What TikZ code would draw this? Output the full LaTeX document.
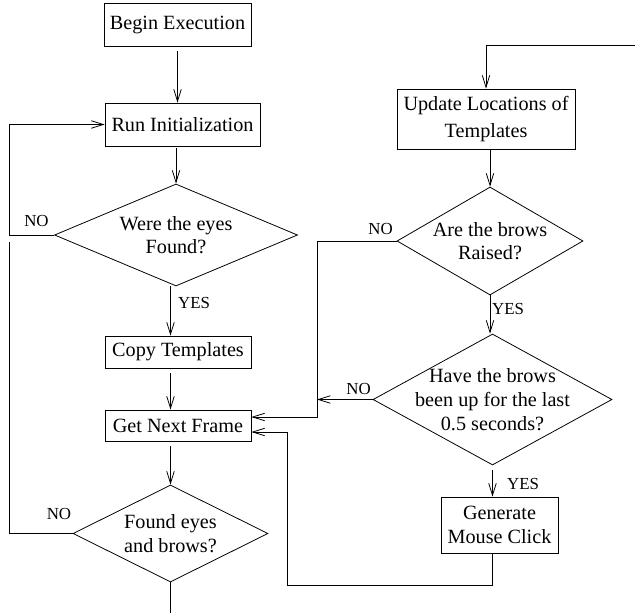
\documentclass[tikz,border=0pt]{standalone}
\usepackage{fontspec}
\setmainfont{Liberation Serif}
\usetikzlibrary{shapes.geometric,arrows.meta}

\begin{document}
\begin{tikzpicture}[scale=0.2, line width=0.45pt,
    box/.style={draw, rectangle, inner sep=0pt, align=center, font=\fontsize{11.5}{13.5}\selectfont},
    dia/.style={draw, diamond, inner xsep=-1cm, inner ysep=-0.6cm, align=center, font=\fontsize{11.5}{13.5}\selectfont},
    lbl/.style={inner sep=0pt, font=\fontsize{9.6}{11}\selectfont},
    arr/.style={-{Straight Barb[length=2.4mm,width=1.5mm]}},
    gap/.style={shorten <=1mm}]
        \useasboundingbox (0,0) rectangle (63.5,-61.3);
        % left column
        \node[box, minimum width=2.94cm, minimum height=0.86cm] (begin) at (17.75,-2.45) {Begin Execution};
        \node[box, minimum width=3.1cm, minimum height=0.86cm] (init) at (18.25,-12.45) {Run Initialization};
        \node[dia, minimum width=4.86cm, minimum height=2.04cm] (eyes) at (17.6,-23.5) {Were the eyes\\Found?};
        \node[box, minimum width=2.92cm, minimum height=0.64cm] (copy) at (17.8,-35.2) {Copy Templates};
        \node[box, minimum width=2.92cm, minimum height=0.62cm] (next) at (17.8,-42.55) {Get Next Frame};
        \node[dia, minimum width=3.9cm, minimum height=1.94cm] (found) at (17.05,-53.35) {Found eyes\\and brows?};
        % right column
        \node[box, minimum width=3.56cm, minimum height=1.2cm] (update) at (48.6,-11.9) {Update Locations of\\[2pt]Templates};
        \node[dia, minimum width=3.72cm, minimum height=2.16cm] (brows) at (49,-24.1) {Are the brows\\Raised?};
        \node[dia, minimum width=4.78cm, minimum height=2.62cm] (held) at (49.25,-39.95) {Have the brows\\been up for the last\\0.5 seconds?};
        \node[box, minimum width=2.34cm, minimum height=1.12cm] (click) at (49.95,-52.5) {Generate\\Mouse Click};
        % corners of the return lines
        \coordinate (loopL) at (0.9,-24.2);
        \coordinate (topR) at (63.5,-4.5);
        \coordinate (bus) at (31.7,-41.7);
        \coordinate (ret) at (28.7,-58.5);
        \coordinate (retin) at (28.7,-43.2);
        \coordinate (exit) at (17.05,-61.3);
        % connectors
        \draw[arr, gap] (begin.south) -- (begin.south |- init.north);
        \draw[arr, shorten <=0.4mm] (eyes.north |- init.south) -- (eyes.north);
        \draw[arr] (eyes.south -| found.north) -- (found.north |- copy.north);
        \draw[arr, gap] (found.north |- copy.south) -- (found.north |- next.north);
        \draw[arr, gap] (found.north |- next.south) -- (found.north);
        \draw (found.south) -- (exit);
        \draw[arr] (eyes.west) -- (eyes.west -| loopL) |- (init.west);
        \draw (found.west) -| (loopL);
        \draw[arr] (topR) -| (update.north);
        \draw[arr] (brows.north |- update.south) -- (brows.north);
        \draw[arr] (brows.west) -| (bus) -- (bus -| next.east);
        \draw[arr] (held.west) -- (held.west -| bus);
        \draw[arr] (brows.south) -- (brows.south |- held.north);
        \draw[arr, gap] (held.south) -- (held.south |- click.north);
        \draw[arr] (click.south -| held.south) |- (ret) -- (retin) -- (retin -| next.east);
        % branch labels
        \node[lbl] (no1) at (3.65,-22.1) {NO};
        \node[lbl] (yes1) at (19.4,-30.25) {YES};
        \node[lbl] (no2) at (38.05,-22.9) {NO};
        \node[lbl] (yes2) at (50.8,-30.9) {YES};
        \node[lbl] (no3) at (35.85,-38.9) {NO};
        \node[lbl] (yes3) at (52.3,-48.4) {YES};
        \node[lbl] (no4) at (5.9,-51.4) {NO};
\end{tikzpicture}
\end{document}
